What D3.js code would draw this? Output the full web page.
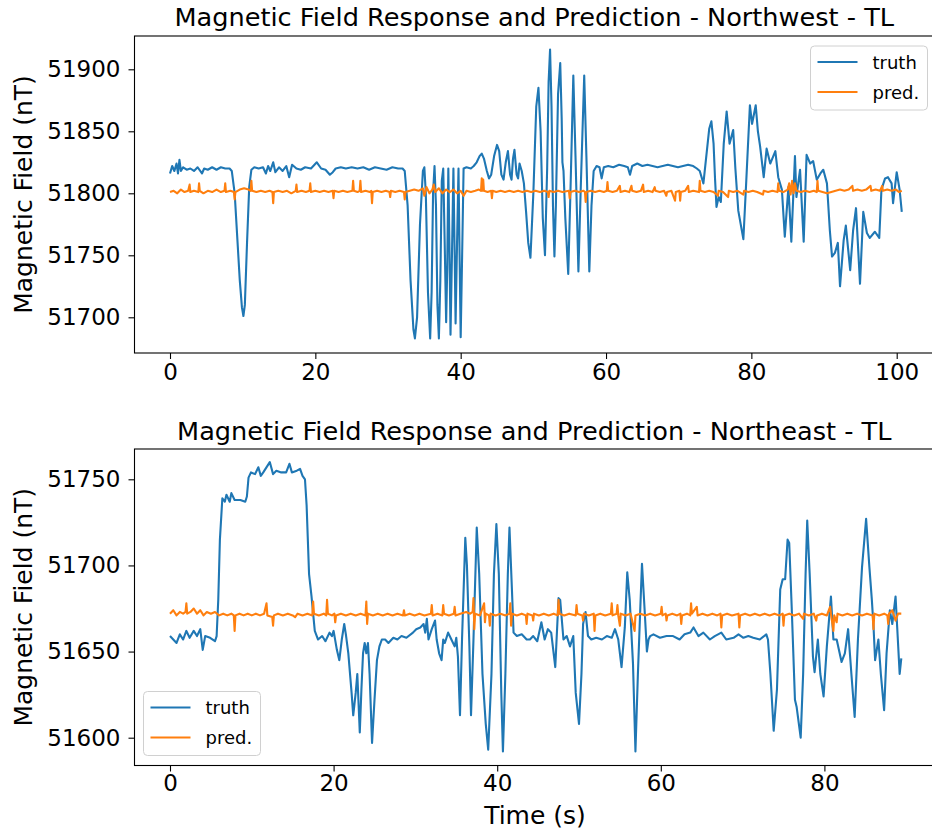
<!DOCTYPE html>
<html><head><meta charset="utf-8">
<script src="https://cdn.jsdelivr.net/npm/d3@7"></script>
<style>body{margin:0;background:#fff}svg{display:block}</style>
</head><body>
<script>
// ---------- DATA ----------
const seriesNames = ["truth", "pred."];
const titles = ["Magnetic Field Response and Prediction - Northwest - TL",
                "Magnetic Field Response and Prediction - Northeast - TL"];
const yLabel = "Magnetic Field (nT)";
const xLabel = "Time (s)";
const nwXTicks = [0, 20, 40, 60, 80, 100];
const nwYTicks = [51700, 51750, 51800, 51850, 51900];
const neXTicks = [0, 20, 40, 60, 80];
const neYTicks = [51600, 51650, 51700, 51750];

const nwTruth = [[0,51816],[0.3,51822],[0.6,51818],[0.9,51824],[1.1,51816],[1.3,51827],[1.5,51818],[1.8,51821],[2.3,51819],[2.8,51820],[3.3,51818],[3.8,51821],[4.4,51816],[4.7,51820],[5.2,51819],[5.8,51821],[6.4,51819],[7.0,51821],[7.6,51820],[8.2,51820],[8.5,51818],[8.9,51800],[9.3,51760],[9.6,51730],[9.9,51708],[10.1,51701],[10.3,51710],[10.6,51760],[10.9,51805],[11.2,51819],[11.6,51821],[12.2,51820],[12.8,51821],[13.2,51816],[13.5,51822],[13.8,51818],[14.2,51825],[14.5,51817],[15.0,51821],[15.5,51818],[16.0,51822],[16.4,51813],[16.8,51823],[17.4,51820],[18.0,51819],[18.6,51821],[19.4,51820],[20.2,51825],[20.8,51820],[21.4,51819],[22.0,51815],[22.4,51817],[22.8,51820],[23.5,51821],[24.2,51820],[25.0,51821],[25.8,51820],[26.6,51821],[27.4,51819],[28.2,51821],[29.0,51820],[29.8,51819],[30.6,51821],[31.4,51820],[32.0,51820],[32.3,51818],[32.7,51790],[33.1,51730],[33.5,51690],[33.7,51683],[34.0,51700],[34.4,51775],[34.8,51818],[35.0,51821],[35.2,51800],[35.5,51720],[35.8,51683],[36.0,51720],[36.2,51800],[36.4,51822],[36.6,51790],[36.8,51710],[37.0,51683],[37.2,51730],[37.4,51810],[37.6,51820],[37.8,51760],[38.0,51696],[38.15,51740],[38.3,51820],[38.45,51760],[38.6,51686],[38.8,51750],[39.0,51820],[39.15,51760],[39.3,51695],[39.5,51760],[39.7,51820],[39.85,51750],[40.0,51684],[40.2,51750],[40.4,51820],[40.8,51821],[41.4,51820],[41.8,51822],[42.2,51825],[42.6,51830],[42.9,51832],[43.2,51828],[43.6,51818],[43.9,51812],[44.2,51815],[44.6,51830],[45.0,51839],[45.3,51834],[45.6,51815],[45.9,51811],[46.2,51825],[46.5,51834],[46.8,51815],[47.0,51811],[47.2,51828],[47.4,51835],[47.7,51815],[47.9,51812],[48.1,51824],[48.4,51818],[48.7,51808],[49.0,51785],[49.3,51760],[49.6,51748],[50.0,51800],[50.4,51870],[50.7,51885],[51.0,51850],[51.3,51780],[51.6,51750],[51.9,51820],[52.1,51890],[52.3,51916],[52.5,51870],[52.7,51790],[52.9,51749],[53.1,51790],[53.4,51880],[53.7,51905],[53.9,51860],[54.0,51825],[54.15,51818],[54.4,51780],[54.8,51735],[55.1,51800],[55.5,51895],[55.8,51830],[56.2,51737],[56.5,51800],[57.0,51895],[57.3,51830],[57.7,51737],[58.0,51790],[58.3,51818],[58.7,51822],[59.1,51821],[59.4,51812],[59.7,51821],[60.3,51822],[61.0,51821],[61.8,51823],[62.5,51822],[63.0,51821],[63.3,51815],[63.6,51822],[64.3,51824],[65.0,51822],[65.7,51823],[66.4,51822],[67.1,51821],[67.8,51822],[68.5,51823],[69.2,51822],[69.9,51821],[70.6,51822],[71.3,51823],[72.0,51822],[72.5,51820],[72.9,51818],[73.4,51808],[73.8,51830],[74.2,51852],[74.5,51858],[74.8,51840],[75.0,51812],[75.2,51789],[75.5,51797],[75.8,51793],[76.2,51840],[76.6,51866],[77.0,51840],[77.5,51851],[77.8,51820],[78.2,51786],[78.9,51763],[79.3,51810],[79.8,51871],[80.1,51856],[80.6,51871],[80.9,51850],[81.2,51838],[81.7,51813],[82.1,51836],[82.6,51824],[83.3,51834],[83.7,51813],[84.2,51803],[84.6,51765],[85.1,51805],[85.5,51761],[86.0,51830],[86.2,51797],[86.7,51819],[87.2,51761],[87.6,51831],[88.1,51824],[88.5,51826],[89.0,51811],[89.5,51816],[89.9,51819],[90.4,51808],[90.8,51770],[91.1,51749],[91.5,51752],[91.9,51760],[92.2,51725],[92.7,51762],[93.0,51774],[93.6,51738],[94.0,51770],[94.4,51788],[94.95,51727],[95.4,51785],[95.9,51768],[96.3,51764],[97.0,51769],[97.6,51764],[97.9,51803],[98.4,51812],[98.8,51813],[99.3,51808],[99.5,51792],[100.0,51817],[100.4,51803],[100.7,51785]];

const nwPred = [[0,51801],[0.5,51802],[1,51800],[1.5,51803],[2,51801],[2.5,51802],[2.7,51807],[2.8,51801],[3.3,51802],[3.9,51801],[4.0,51808],[4.1,51802],[4.6,51800],[5.2,51802],[5.8,51801],[6.4,51803],[7.0,51801],[7.5,51802],[7.6,51808],[7.7,51801],[8.3,51802],[8.8,51801],[8.9,51795],[9.0,51801],[9.6,51803],[10.2,51804],[10.8,51803],[11.1,51802],[11.2,51810],[11.3,51802],[11.9,51801],[12.5,51802],[13.1,51801],[13.7,51802],[14.1,51801],[14.2,51792],[14.3,51801],[14.9,51802],[15.5,51801],[16.1,51802],[16.7,51800],[17.3,51802],[17.4,51807],[17.5,51801],[18.1,51802],[18.7,51801],[19.2,51802],[19.3,51808],[19.4,51801],[20,51802],[20.6,51801],[21.2,51802],[21.8,51801],[22.4,51802],[22.5,51796],[22.6,51802],[23.2,51801],[23.8,51802],[24.4,51801],[25.1,51802],[25.2,51810],[25.3,51802],[25.8,51801],[26.1,51802],[26.2,51810],[26.3,51801],[26.9,51802],[27.5,51801],[27.7,51802],[27.8,51792],[27.9,51801],[28.5,51802],[29.1,51801],[29.7,51802],[30.2,51801],[30.3,51797],[30.4,51802],[31,51801],[31.6,51802],[32.2,51801],[32.3,51795],[32.4,51801],[33,51802],[33.6,51803],[34.2,51802],[34.8,51804],[35.0,51798],[35.3,51805],[35.7,51800],[36.1,51803],[36.3,51807],[36.5,51801],[37,51804],[37.5,51800],[38,51803],[38.5,51801],[39,51803],[39.5,51800],[40,51802],[40.4,51798],[40.8,51802],[41.4,51801],[42,51802],[42.5,51803],[42.8,51802],[42.9,51812],[43.0,51802],[43.1,51811],[43.2,51802],[43.7,51801],[44.2,51802],[44.3,51796],[44.4,51802],[44.9,51801],[45.5,51802],[46.1,51801],[46.7,51802],[47.3,51801],[47.9,51802],[48.5,51801],[49.1,51802],[49.7,51801],[50.3,51802],[50.9,51801],[51.5,51802],[52.0,51801],[52.1,51797],[52.2,51802],[52.8,51801],[53.4,51802],[54.0,51801],[54.9,51802],[55.0,51796],[55.1,51801],[55.7,51802],[56.3,51801],[56.9,51802],[57.1,51801],[57.2,51793],[57.3,51801],[57.9,51802],[58.5,51801],[59.1,51802],[59.7,51801],[60.1,51802],[60.2,51809],[60.3,51802],[60.9,51801],[61.5,51802],[61.9,51806],[62.0,51801],[62.6,51802],[63.2,51801],[63.5,51806],[63.6,51802],[64.2,51801],[64.8,51802],[65.1,51807],[65.2,51801],[65.8,51802],[66.4,51801],[66.7,51805],[66.8,51802],[67.4,51801],[68.0,51802],[68.3,51798],[68.4,51801],[69,51802],[69.5,51794],[69.6,51801],[70.1,51802],[70.2,51794],[70.3,51801],[70.9,51802],[71.3,51806],[71.4,51801],[72,51802],[72.8,51801],[72.9,51810],[73.0,51802],[73.6,51801],[74.2,51802],[74.8,51801],[75.4,51798],[75.5,51802],[76.1,51801],[76.8,51797],[76.9,51802],[77.5,51801],[78.1,51802],[78.9,51799],[79.0,51802],[79.6,51801],[80.2,51802],[80.8,51801],[81.6,51799],[81.7,51802],[82.3,51801],[82.9,51802],[83.6,51801],[83.7,51808],[83.8,51802],[84.4,51801],[85.0,51803],[85.2,51808],[85.4,51799],[85.6,51810],[85.8,51800],[86.0,51808],[86.2,51802],[86.8,51801],[87.4,51802],[88.0,51801],[88.6,51802],[89.0,51801],[89.1,51810],[89.2,51802],[89.8,51801],[90.4,51800],[91,51801],[91.6,51802],[92.2,51803],[92.8,51802],[93.4,51803],[93.9,51806],[94.0,51802],[94.6,51803],[95.2,51802],[95.8,51803],[96.4,51806],[96.5,51802],[97.1,51803],[97.7,51802],[98.0,51806],[98.1,51802],[98.7,51803],[99.3,51802],[99.9,51803],[100.3,51801],[100.7,51802]];

const neTruth = [[0,51659],[0.4,51657],[0.8,51655],[1.2,51660],[1.6,51657],[2.0,51662],[2.4,51658],[2.9,51662],[3.3,51659],[3.7,51663],[4.0,51651],[4.3,51659],[4.9,51658],[5.5,51656],[5.7,51659],[5.9,51680],[6.1,51715],[6.4,51739],[6.7,51737],[6.9,51741],[7.3,51737],[7.5,51742],[7.9,51738],[8.6,51738],[9.2,51737],[9.4,51740],[9.6,51751],[9.9,51754],[10.4,51753],[10.8,51757],[11.1,51752],[11.4,51754],[12.2,51760],[12.6,51753],[13.0,51755],[13.6,51754],[14.2,51754],[14.6,51759],[14.9,51754],[15.5,51755],[15.9,51756],[16.2,51752],[16.5,51750],[16.7,51735],[17.0,51695],[17.3,51682],[17.7,51662],[18.1,51657],[18.6,51659],[19.0,51656],[19.5,51661],[19.8,51659],[20.0,51662],[20.4,51651],[20.7,51645],[21.0,51657],[21.3,51666],[21.5,51660],[21.8,51649],[22.2,51626],[22.4,51613],[22.7,51626],[22.9,51637],[23.2,51603],[23.4,51628],[23.6,51649],[23.8,51655],[24.0,51649],[24.2,51655],[24.4,51637],[24.7,51597],[25.0,51622],[25.3,51645],[25.6,51653],[25.9,51657],[26.3,51657],[26.7,51655],[27.3,51658],[27.8,51657],[28.3,51659],[28.9,51658],[29.7,51661],[30.1,51663],[30.6,51664],[31.0,51666],[31.2,51661],[31.4,51669],[31.6,51657],[32.0,51663],[32.4,51668],[32.6,51657],[32.9,51649],[33.2,51645],[33.4,51657],[33.6,51655],[34.0,51661],[34.4,51657],[34.8,51653],[35.0,51658],[35.2,51647],[35.45,51613],[35.7,51657],[36.1,51716],[36.3,51700],[36.6,51653],[36.8,51613],[37.1,51657],[37.5,51722],[37.8,51695],[38.2,51637],[38.6,51608],[38.9,51593],[39.3,51637],[39.6,51695],[39.9,51724],[40.2,51695],[40.5,51626],[40.7,51592],[41.0,51637],[41.3,51695],[41.5,51722],[41.8,51686],[42.0,51661],[42.4,51659],[43.0,51660],[43.6,51657],[44.0,51657],[44.4,51659],[44.9,51656],[45.4,51667],[45.8,51657],[46.2,51663],[46.6,51661],[47.1,51641],[47.5,51681],[47.7,51680],[48.1,51657],[48.5,51659],[48.9,51653],[49.3,51659],[49.6,51626],[50.0,51608],[50.3,51637],[50.5,51666],[50.8,51673],[51.1,51659],[51.5,51657],[52.1,51658],[52.8,51657],[53.4,51659],[54.0,51658],[54.4,51663],[54.8,51657],[55.2,51641],[55.6,51664],[55.9,51696],[56.2,51680],[56.6,51643],[56.9,51592],[57.2,51637],[57.5,51676],[57.7,51701],[58.0,51676],[58.3,51650],[58.5,51657],[58.7,51659],[59.1,51660],[59.9,51658],[60.7,51659],[61.5,51659],[62.3,51657],[62.9,51660],[63.6,51661],[64.0,51664],[64.6,51659],[65.2,51661],[66.0,51657],[66.6,51659],[67.4,51661],[68.0,51657],[68.9,51658],[69.5,51660],[70.1,51658],[70.7,51659],[71.3,51658],[72.1,51657],[72.9,51660],[73.1,51657],[73.4,51637],[73.8,51604],[74.2,51628],[74.6,51686],[74.9,51692],[75.2,51692],[75.5,51715],[75.7,51713],[76.0,51676],[76.4,51622],[76.6,51618],[77.1,51600],[77.4,51637],[77.7,51695],[77.9,51726],[78.2,51695],[78.6,51647],[78.8,51638],[79.2,51657],[79.5,51637],[79.9,51624],[80.3,51653],[80.8,51682],[81.1,51657],[81.5,51657],[82.1,51644],[82.5,51649],[82.9,51663],[83.3,51637],[83.7,51612],[84.1,51657],[84.6,51699],[85.1,51727],[85.5,51699],[85.8,51680],[86.0,51665],[86.2,51645],[86.6,51657],[86.9,51637],[87.3,51616],[87.6,51649],[88.0,51674],[88.3,51666],[88.7,51682],[88.9,51664],[89.2,51637],[89.4,51646]];

const nePred = [[0,51672],[0.4,51674],[0.8,51671],[1.2,51673],[1.6,51672],[1.9,51673],[2.0,51678],[2.1,51672],[2.5,51673],[2.9,51675],[3.3,51672],[3.7,51674],[4.1,51671],[4.5,51673],[5.0,51672],[5.5,51673],[6.0,51671],[6.5,51672],[7.0,51671],[7.5,51672],[7.8,51671],[7.9,51662],[8.0,51671],[8.5,51672],[9.0,51671],[9.5,51672],[10.0,51671],[10.5,51672],[11.0,51671],[11.5,51672],[11.8,51678],[11.9,51671],[12.5,51670],[12.6,51665],[12.7,51671],[13.2,51672],[13.8,51671],[14.4,51672],[15.0,51671],[15.3,51670],[15.6,51672],[16.2,51671],[16.8,51672],[17.4,51671],[17.5,51679],[17.6,51672],[18.2,51671],[18.8,51672],[19.1,51671],[19.2,51680],[19.3,51672],[19.8,51671],[20.1,51672],[20.2,51667],[20.3,51671],[20.9,51672],[21.5,51671],[22.1,51672],[22.7,51671],[23.3,51672],[23.9,51671],[24.0,51679],[24.1,51666],[24.2,51672],[24.8,51671],[25.4,51672],[26.0,51671],[26.6,51672],[27.2,51671],[27.8,51672],[28.5,51671],[28.6,51674],[28.7,51671],[29.3,51672],[29.9,51671],[30.5,51672],[31.1,51671],[31.9,51672],[32.0,51677],[32.1,51671],[32.7,51672],[33.3,51671],[33.4,51677],[33.5,51672],[34.1,51671],[34.7,51672],[34.8,51676],[34.9,51671],[35.5,51672],[36.2,51673],[36.7,51672],[37.0,51673],[37.1,51681],[37.2,51663],[37.3,51672],[37.9,51671],[38.4,51678],[38.5,51667],[38.6,51672],[39.0,51671],[39.1,51665],[39.2,51672],[39.8,51671],[40.4,51672],[41.0,51671],[41.5,51672],[41.6,51678],[41.7,51665],[41.8,51672],[42.4,51671],[43.0,51672],[43.5,51671],[43.6,51666],[43.7,51672],[44.3,51671],[44.4,51668],[44.5,51672],[45.1,51671],[45.7,51672],[46.3,51671],[46.9,51672],[47.4,51671],[47.5,51680],[47.6,51672],[48.2,51671],[48.8,51672],[49.6,51671],[49.7,51677],[49.8,51672],[50.4,51671],[50.5,51668],[50.6,51672],[51.2,51671],[51.8,51672],[51.9,51662],[52.0,51671],[52.6,51672],[53.2,51671],[53.9,51672],[54.0,51678],[54.1,51671],[54.6,51672],[54.7,51677],[54.8,51671],[55.0,51665],[55.1,51672],[55.7,51671],[56.3,51672],[56.8,51662],[56.9,51671],[57.5,51672],[58.1,51671],[58.7,51672],[59.3,51671],[60.0,51672],[60.1,51676],[60.2,51671],[60.6,51672],[60.7,51668],[60.8,51671],[61.4,51672],[62.0,51671],[62.4,51672],[62.5,51666],[62.6,51671],[63.2,51672],[63.6,51671],[63.7,51678],[63.8,51672],[64.4,51676],[64.5,51671],[65.1,51672],[65.7,51671],[66.3,51672],[66.9,51671],[67.3,51672],[67.4,51664],[67.5,51671],[68.1,51672],[68.7,51671],[69.5,51672],[69.6,51664],[69.7,51671],[70.3,51672],[70.9,51671],[71.5,51672],[72.1,51671],[72.7,51672],[73.3,51671],[73.9,51672],[74.5,51671],[74.9,51672],[75.0,51665],[75.1,51671],[75.7,51672],[76.3,51671],[76.9,51672],[77.4,51669],[77.5,51672],[78.1,51671],[78.7,51672],[79.0,51668],[79.1,51671],[79.7,51672],[80.3,51671],[80.7,51676],[80.8,51672],[81.1,51662],[81.2,51671],[81.5,51667],[81.6,51672],[82.2,51671],[82.8,51672],[83.4,51671],[84.0,51672],[84.6,51671],[85.2,51672],[85.9,51671],[86.0,51663],[86.1,51672],[86.7,51671],[87.3,51672],[87.7,51671],[87.8,51666],[87.9,51672],[88.3,51674],[88.7,51668],[89.0,51672],[89.4,51672]];

// ---------- DRAW ----------
const W = 932, H = 832;
const colors = ["#1f77b4", "#ff7f0e"];
const FONT = "'DejaVu Sans', sans-serif";
const svg = d3.select("body").append("svg").attr("width", W).attr("height", H)
  .style("font-family", FONT);

const panels = [
  { title: titles[0], series: [nwTruth, nwPred], xTicks: nwXTicks, yTicks: nwYTicks,
    x: d3.scaleLinear().domain([0, 100]).range([170, 896.7]),
    y: d3.scaleLinear().domain([51700, 51900]).range([317.3, 69.3]),
    box: { x0: 134.5, x1: 938, y0: 36, y1: 353 }, titleY: 26, legend: { x: 810.5, y: 46, w: 117, h: 64 }, xLabel: false },
  { title: titles[1], series: [neTruth, nePred], xTicks: neXTicks, yTicks: neYTicks,
    x: d3.scaleLinear().domain([0, 80]).range([170, 824.4]),
    y: d3.scaleLinear().domain([51600, 51750]).range([737.7, 479.3]),
    box: { x0: 134.5, x1: 938, y0: 449, y1: 765.5 }, titleY: 440, legend: { x: 143.5, y: 691.5, w: 117, h: 64 }, xLabel: true }
];

panels.forEach(p => {
  const g = svg.append("g");
  const b = p.box;
  const line = d3.line().x(d => p.x(d[0])).y(d => p.y(d[1]));
  const clipId = "clip" + Math.round(b.y0);
  svg.append("clipPath").attr("id", clipId).append("rect")
    .attr("x", b.x0).attr("y", b.y0).attr("width", b.x1 - b.x0).attr("height", b.y1 - b.y0);
  const lg = g.append("g").attr("clip-path", `url(#${clipId})`);
  p.series.forEach((s, i) => {
    lg.append("path").datum(s).attr("d", line).attr("fill", "none")
      .attr("stroke", colors[i]).attr("stroke-width", 2.1)
      .attr("stroke-linejoin", "round").attr("stroke-linecap", "butt");
  });
  g.append("rect").attr("x", b.x0).attr("y", b.y0).attr("width", b.x1 - b.x0).attr("height", b.y1 - b.y0)
    .attr("fill", "none").attr("stroke", "#000").attr("stroke-width", 1.1);
  const xa = g.append("g").attr("transform", `translate(0,${b.y1})`)
    .call(d3.axisBottom(p.x).tickValues(p.xTicks).tickFormat(d3.format("d")).tickSize(6).tickPadding(p.xLabel ? 3 : 5));
  xa.select(".domain").remove();
  xa.selectAll(".tick line").attr("stroke", "#000").attr("stroke-width", 1.1);
  xa.selectAll(".tick text").attr("font-size", 23).attr("font-family", FONT).attr("fill", "#000");
  const ya = g.append("g").attr("transform", `translate(${b.x0},0)`)
    .call(d3.axisLeft(p.y).tickValues(p.yTicks).tickFormat(d3.format("d")).tickSize(6).tickPadding(8));
  ya.select(".domain").remove();
  ya.selectAll(".tick line").attr("stroke", "#000").attr("stroke-width", 1.1);
  ya.selectAll(".tick text").attr("font-size", 23).attr("font-family", FONT).attr("fill", "#000");
  g.append("text").attr("x", (b.x0 + b.x1) / 2 - 2).attr("y", p.titleY).attr("text-anchor", "middle")
    .attr("font-size", 25.6).attr("fill", "#000").text(p.title);
  g.append("text").attr("transform", `translate(32,${(b.y0 + b.y1) / 2}) rotate(-90)`)
    .attr("text-anchor", "middle").attr("font-size", 25).attr("fill", "#000").text(yLabel);
  if (p.xLabel) {
    g.append("text").attr("x", 535).attr("y", 824).attr("text-anchor", "middle")
      .attr("font-size", 25).attr("fill", "#000").text(xLabel);
  }
  const L = p.legend;
  const lgd = g.append("g").attr("transform", `translate(${L.x},${L.y})`);
  lgd.append("rect").attr("width", L.w).attr("height", L.h).attr("rx", 4)
    .attr("fill", "#fff").attr("fill-opacity", 0.8).attr("stroke", "#d0d0d0").attr("stroke-width", 1);
  seriesNames.forEach((n, i) => {
    const yy = 16 + i * 30;
    lgd.append("line").attr("x1", 7).attr("x2", 47).attr("y1", yy).attr("y2", yy)
      .attr("stroke", colors[i]).attr("stroke-width", 2.1);
    lgd.append("text").attr("x", 62).attr("y", yy + 6.5).attr("font-size", 18).attr("fill", "#000").text(n);
  });
});
</script>
</body></html>
